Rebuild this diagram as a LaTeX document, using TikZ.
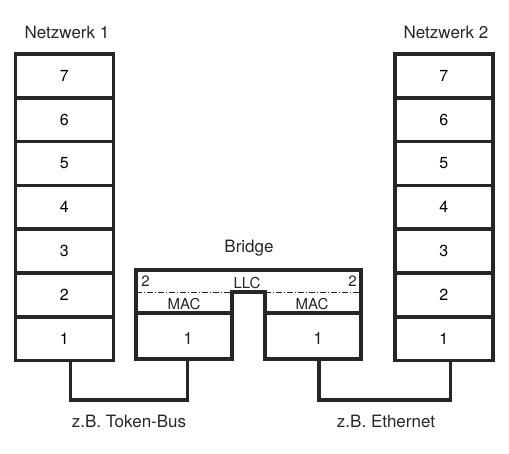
\documentclass[tikz,border=0pt]{standalone}
\usepackage{fontspec}
\setmainfont{TeX Gyre Heros}
\usetikzlibrary{positioning}
\tikzset{
        layer/.style = {draw=black!85, line width=3.5pt, rectangle, minimum height=43.8pt, minimum width=98pt, outer sep=0pt, inner sep=0pt, font=\fontsize{16}{18}\selectfont},
        txt/.style = {font=\fontsize{17}{19}\selectfont, text=black!85, inner sep=0pt, anchor=base},
        small/.style = {font=\fontsize{15}{17}\selectfont, text=black!85, inner sep=0pt, anchor=base},
        bus/.style = {draw=black!85, line width=3.5pt, line join=miter},
        llc/.style = {draw=black!85, line width=0.8pt, dash pattern=on 6pt off 2pt on 1pt off 2pt},
    }
\begin{document}
\begin{tikzpicture}[x=1pt, y=-1pt]
    \useasboundingbox (0,0) rectangle (509,454);

    % Netzwerk 1 und 2
    \node [layer] (l7) at (64.4,75.9) {7};
    \node [layer] (r7) at (443.9,75.9) {7};
    \foreach \i/\j in {6/7,5/6,4/5,3/4,2/3,1/2} {
        \node [layer, below=0pt of l\j] (l\i) {\i};
        \node [layer, below=0pt of r\j] (r\i) {\i};
    }
    \node [txt] (net1) at (67,38.3) {Netzwerk 1};
    \node [txt] (net2) at (446,38.3) {Netzwerk 2};

    % Bridge
    \coordinate (btl) at (136,270);
    \coordinate (btr) at (361,270);
    \coordinate (nl) at (232,292);
    \coordinate (nr) at (265,292);
    \node [layer, minimum width=96pt, minimum height=46pt, anchor=north west] (bl1) at (136,313) {};
    \node [layer, minimum width=96pt, minimum height=46pt, anchor=north west] (br1) at (265,313) {};
    \draw [bus] (bl1.north west) -- (btl) -- (btr) -- (br1.north east);
    \draw [bus] (bl1.north east) -- (nl) -- (nr) -- (br1.north west);
    \draw [llc] (136,292) -- (nl);
    \draw [llc] (nr) -- (361,292);

    \node [txt] (bridge) at (249,253) {Bridge};
    \node [small] (llc) at (247,288.5) {LLC};
    \node [small] (two l) at (145.5,287) {2};
    \node [small] (two r) at (352.5,287) {2};
    \node [small] (mac l) at (184,310) {MAC};
    \node [small] (mac r) at (312,310) {MAC};
    \node [txt] (one l) at (188,345) {1};
    \node [txt] (one r) at (318,345) {1};

    % Verbindungen
    \coordinate (tb1) at (70.5,400);
    \coordinate (tb2) at (187.7,400);
    \coordinate (eth1) at (319,400);
    \coordinate (eth2) at (450.7,400);
    \draw [bus] (l1.south -| tb1) -- (tb1) -- (tb2) -- (bl1.south -| tb2);
    \draw [bus] (br1.south -| eth1) -- (eth1) -- (eth2) -- (r1.south -| eth2);
    \node [txt] (tokenbus) at (129,428) {z.B. Token-Bus};
    \node [txt] (ethernet) at (386,428) {z.B. Ethernet};

\end{tikzpicture}
\end{document}
